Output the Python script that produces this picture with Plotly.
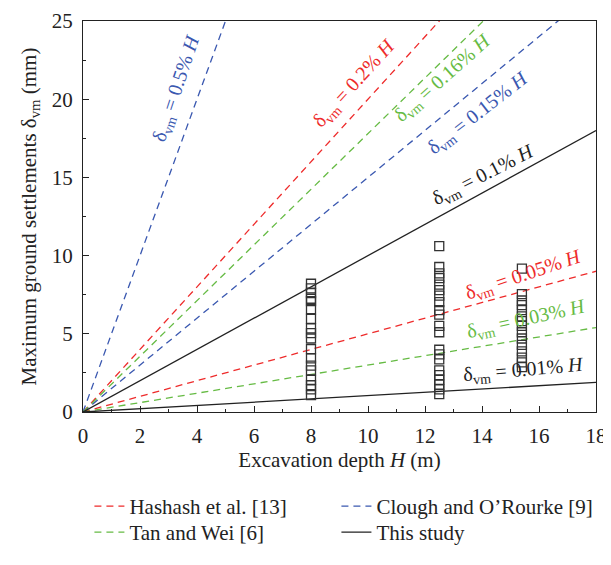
import plotly.graph_objects as go

# ---- data ----
depth_range = [0, 18]
label_rates_pct = [0.5, 0.2, 0.16, 0.15, 0.1, 0.05, 0.03, 0.01]
drawn_slopes_mm_per_m = [5.0, 2.0, 1.78, 1.5, 1.0, 0.5, 0.3, 0.105]
rate_groups = ["Clough and O’Rourke [9]", "Hashash et al. [13]", "Tan and Wei [6]",
               "Clough and O’Rourke [9]", "This study", "Hashash et al. [13]",
               "Tan and Wei [6]", "This study"]

col1_H = 8.0
col1_vals = [8.2, 7.9, 7.6, 7.24, 7.09, 6.57, 5.96, 5.35, 5.04, 4.70, 4.02, 3.43, 2.97, 2.66, 2.05, 1.71, 1.45, 1.08]
col2_H = 12.5
col2_vals = [10.6, 9.27, 8.86, 8.56, 8.15, 7.79, 7.44, 7.03, 6.52, 6.22, 5.51, 5.10, 3.98, 3.68, 3.37, 2.66, 2.36, 2.05, 1.75, 1.45, 1.14]
col3_H = 15.4
col3_vals = [9.17, 7.54, 7.13, 6.83, 6.52, 6.12, 5.81, 5.51, 5.10, 4.70, 4.29, 3.88, 3.48, 3.17, 2.87]

label_x = [3.29, 9.54, 12.64, 13.87, 14.05, 15.45, 15.57, 15.45]
label_y = [20.7, 21.0, 21.3, 19.08, 15.13, 8.74, 5.9, 2.66]
label_angle = [-71.6, -47.7, -41.5, -37.9, -27, -18.4, -12.6, -5]

x_ticks = list(range(0, 19, 2))
y_ticks = [0, 5, 10, 15, 20, 25]

group_style = {
    "Hashash et al. [13]": ("#EE2B2B", "7px,5px", "legend"),
    "Clough and O’Rourke [9]": ("#3A58B0", "7px,5px", "legend2"),
    "Tan and Wei [6]": ("#66BB44", "7px,5px", "legend3"),
    "This study": ("#222222", "solid", "legend4"),
}
legend_order = ["Hashash et al. [13]", "Clough and O’Rourke [9]", "Tan and Wei [6]", "This study"]

FONT = "Liberation Serif, Times New Roman, serif"
FS = 21
fig = go.Figure()

shown = set()
for g in legend_order:
    color, dash, leg = group_style[g]
    for s, gg in zip(drawn_slopes_mm_per_m, rate_groups):
        if gg != g:
            continue
        fig.add_trace(go.Scatter(
            x=depth_range, y=[s * h for h in depth_range],
            mode="lines", line=dict(color=color, dash=dash, width=1.3),
            name=g, legendgroup=g, showlegend=(g not in shown), legend=leg,
            hoverinfo="skip"))
        shown.add(g)

for H, vals in [(col1_H, col1_vals), (col2_H, col2_vals), (col3_H, col3_vals)]:
    fig.add_trace(go.Scatter(
        x=[H] * len(vals), y=vals, mode="markers", showlegend=False,
        marker=dict(symbol="square-open", size=9, color="#333333", line=dict(width=1.3))))

for r, g, lx, ly, ang in zip(label_rates_pct, rate_groups, label_x, label_y, label_angle):
    color = group_style[g][0]
    fig.add_annotation(x=lx, y=ly, text=f"δ<sub>vm</sub> = {r}% <i>H</i>",
                       showarrow=False, textangle=ang,
                       font=dict(family=FONT, size=20, color=color))

axis_common = dict(
    showgrid=False, zeroline=False, showline=True, linecolor="#222222", linewidth=1.2,
    mirror=True, ticks="inside", ticklen=6, tickwidth=1, tickcolor="#222222",
    tickfont=dict(family=FONT, size=FS, color="#222222"), automargin=False,
    ticklabeloverflow="allow",
)
fig.update_xaxes(range=[0, 18], tickvals=x_ticks, ticklabelstandoff=5,
                 minor=dict(ticks="inside", ticklen=3, dtick=1, tickcolor="#222222"),
                 title=dict(text="Excavation depth <i>H</i> (m)", font=dict(family=FONT, size=FS, color="#222222"), standoff=3),
                 **axis_common)
fig.update_yaxes(range=[0, 25], tickvals=y_ticks, ticklabelstandoff=5,
                 minor=dict(ticks="inside", ticklen=3, dtick=2.5, tickcolor="#222222"),
                 title=dict(text="Maximum ground settlements δ<sub>vm</sub> (mm)", font=dict(family=FONT, size=FS, color="#222222"), standoff=9),
                 **axis_common)

legend_common = dict(font=dict(family=FONT, size=FS, color="#222222"), bgcolor="rgba(0,0,0,0)",
                     xref="paper", yref="paper", xanchor="left", yanchor="middle",
                     tracegroupgap=0, itemwidth=30)
row1_y, row2_y = -0.2414, -0.3079
col1_x, col2_x = 0.0125, 0.494
fig.update_layout(
    width=603, height=557,
    margin=dict(l=75, r=15, t=13, b=138),
    plot_bgcolor="white", paper_bgcolor="white",
    font=dict(family=FONT),
    legend=dict(x=col1_x, y=row1_y, **legend_common),
    legend2=dict(x=col2_x, y=row1_y, **legend_common),
    legend3=dict(x=col1_x, y=row2_y, **legend_common),
    legend4=dict(x=col2_x, y=row2_y, **legend_common),
)

fig.write_html("out.html")
